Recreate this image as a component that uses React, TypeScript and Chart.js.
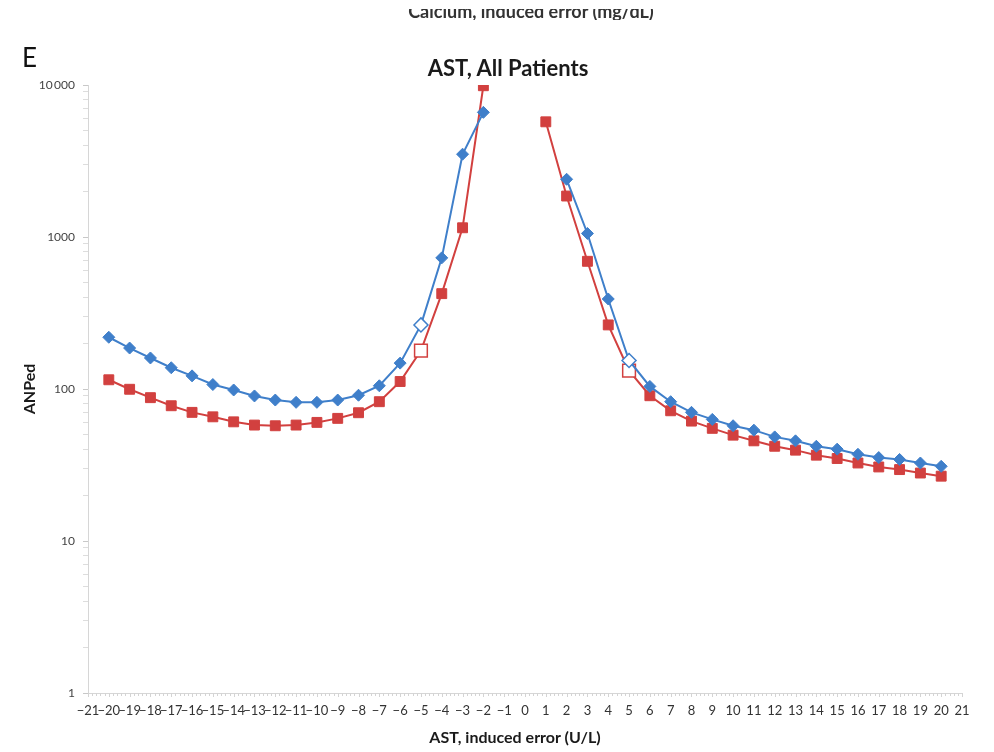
import React, { useEffect, useRef } from "react";
import { Chart, registerables } from "chart.js";

Chart.register(...registerables);

// ---- data ----
const xValues: number[] = [
  -20, -19, -18, -17, -16, -15, -14, -13, -12, -11, -10, -9, -8, -7, -6, -5, -4, -3, -2, -1,
  0, 1, 2, 3, 4, 5, 6, 7, 8, 9, 10, 11, 12, 13, 14, 15, 16, 17, 18, 19, 20,
];
const blueValues: (number | null)[] = [
  219, 186, 160, 138, 122, 107, 98.5, 90, 84.6, 81.7, 81.7, 84.6, 91, 105, 148, 264, 729, 3505, 6607,
  null, null, null,
  2397, 1055, 391, 154, 104, 82.5, 70.2, 63.1, 57.3, 53.6, 48.4, 45.6, 42.0, 40.2, 37.2, 35.4, 34.4, 32.6, 31.0,
];
const redValues: (number | null)[] = [
  115, 99.6, 87.7, 77.6, 70.2, 65.6, 60.8, 57.9, 57.3, 57.9, 60.3, 64.1, 69.8, 82.5, 112, 179, 424, 1150, 9890,
  null, null,
  5725, 1860, 692, 264, 132, 90.3, 71.9, 61.5, 55.1, 49.7, 45.6, 42.0, 39.6, 36.7, 34.9, 32.6, 30.7, 29.5, 28.0, 26.7,
];
const openMarkerX: number[] = [-5, 5];
const yMajorTicks: number[] = [1, 10, 100, 1000, 10000];
const xTickMin = -21;
const xTickMax = 21;

const chartTitle = "AST, All Patients";
const xAxisTitle = "AST, induced error (U/L)";
const yAxisTitle = "ANPed";
const panelLetter = "E";
const cutTitle = "Calcium, induced error (mg/dL)";

const BLUE = "#3f7fca";
const RED = "#d2403f";
const FONT = "Lato, 'Open Sans', sans-serif";

function fmtY(v: number): string {
  if (v >= 10000) {
    const s = String(v);
    return s.slice(0, s.length - 3) + "\u2009" + s.slice(s.length - 3);
  }
  return String(v);
}

function fmtX(v: number): string {
  return v < 0 ? "\u2212" + Math.abs(v) : String(v);
}

const minorTicksPlugin = {
  id: "minorTicks",
  afterDraw(chart: any) {
    const { ctx, chartArea } = chart;
    const xs = chart.scales.x;
    ctx.save();
    ctx.strokeStyle = "#d4d4d4";
    ctx.lineWidth = 1;
    ctx.beginPath();
    for (let i = 0; i <= (xTickMax - xTickMin) * 5; i++) {
      const v = xTickMin + i / 5;
      const px = Math.round(xs.getPixelForValue(v)) + 0.5;
      ctx.moveTo(px, chartArea.bottom);
      ctx.lineTo(px, chartArea.bottom + (i % 5 === 0 ? 4 : 3));
    }
    ctx.stroke();
    ctx.restore();
  },
};

export default function App() {
  const canvasRef = useRef<HTMLCanvasElement | null>(null);

  useEffect(() => {
    const canvas = canvasRef.current;
    if (!canvas) return;

    const isOpen = (x: number) => openMarkerX.includes(x);

    const blueData = xValues.map((x, i) => ({ x, y: blueValues[i] }));
    const redData = xValues.map((x, i) => ({ x, y: redValues[i] }));

    const yTicks: number[] = [];
    for (let p = 0; p < 4; p++) {
      for (let m = 1; m < 10; m++) yTicks.push(m * Math.pow(10, p));
    }
    yTicks.push(10000);

    const chart = new Chart(canvas, {
      type: "line",
      data: {
        datasets: [
          {
            label: "Blue",
            data: blueData,
            borderColor: BLUE,
            borderWidth: 2,
            pointStyle: "rectRot",
            pointRadius: xValues.map((x) => (isOpen(x) ? 7 : 6)),
            pointBackgroundColor: xValues.map((x) => (isOpen(x) ? "#ffffff" : BLUE)),
            pointBorderColor: BLUE,
            pointBorderWidth: xValues.map((x) => (isOpen(x) ? 1.5 : 1)),
            spanGaps: false,
            tension: 0,
          },
          {
            label: "Red",
            data: redData,
            borderColor: RED,
            borderWidth: 2,
            pointStyle: "rect",
            pointRadius: xValues.map((x) => (isOpen(x) ? 9 : 7)),
            pointBackgroundColor: xValues.map((x) => (isOpen(x) ? "#ffffff" : RED)),
            pointBorderColor: RED,
            pointBorderWidth: xValues.map((x) => (isOpen(x) ? 1.5 : 1)),
            spanGaps: false,
            tension: 0,
          },
        ],
      } as any,
      options: {
        responsive: false,
        animation: false,
        maintainAspectRatio: false,
        layout: { padding: { left: 0, right: 32, top: 85, bottom: 0 } },
        plugins: {
          legend: { display: false },
          tooltip: { enabled: false },
          title: { display: false },
        },
        scales: {
          x: {
            type: "linear",
            min: xTickMin,
            max: xTickMax,
            afterFit: (s: any) => {
              s.height = 59;
            },
            afterBuildTicks: (s: any) => {
              const t = [];
              for (let v = xTickMin; v <= xTickMax; v++) t.push({ value: v });
              s.ticks = t;
            },
            ticks: {
              autoSkip: false,
              maxRotation: 0,
              minRotation: 0,
              padding: 10,
              color: "#333333",
              font: { family: FONT, size: 13 },
              callback: (v: any) => fmtX(Number(v)),
            },
            grid: { display: true, drawOnChartArea: false, drawTicks: false, tickLength: 0 },
            border: { display: true, color: "#d6d6d6", width: 1 },
          },
          y: {
            type: "logarithmic",
            min: 1,
            max: 10000,
            afterFit: (s: any) => {
              s.width = 88;
            },
            afterBuildTicks: (s: any) => {
              s.ticks = yTicks.map((v) => ({ value: v, major: yMajorTicks.includes(v) }));
            },
            ticks: {
              autoSkip: false,
              padding: 8,
              color: "#444444",
              font: { family: FONT, size: 12 },
              callback: (v: any) => (yMajorTicks.includes(Number(v)) ? fmtY(Number(v)) : ""),
            },
            grid: {
              display: true,
              drawOnChartArea: false,
              drawTicks: true,
              tickLength: 5,
              tickColor: (c: any) =>
                c.tick && yMajorTicks.includes(c.tick.value) ? "#c8c8c8" : "#dddddd",
            },
            border: { display: true, color: "#d6d6d6", width: 1 },
          },
        },
      },
      plugins: [minorTicksPlugin],
    });

    return () => {
      chart.destroy();
    };
  }, []);

  const textBase: React.CSSProperties = {
    position: "absolute",
    fontFamily: FONT,
    color: "#1a1a1a",
    whiteSpace: "nowrap",
    lineHeight: 1,
  };

  return (
    <div
      style={{
        position: "fixed",
        left: 0,
        top: 0,
        width: 994,
        height: 752,
        background: "#ffffff",
        overflow: "hidden",
      }}
    >
      <canvas ref={canvasRef} width={994} height={752} style={{ width: 994, height: 752, display: "block" }} />
      <div style={{ position: "absolute", left: 0, top: 9, width: 994, height: 11, overflow: "hidden" }}>
        <div
          style={{
            ...textBase,
            left: 531,
            top: -7,
            transform: "translateX(-50%)",
            fontSize: 18,
            fontWeight: 700,
            color: "#333333",
          }}
        >
          {cutTitle}
        </div>
      </div>
      <div style={{ ...textBase, left: 22, top: 44, fontSize: 26, fontWeight: 400, color: "#111" }}>
        {panelLetter}
      </div>
      <div
        style={{
          ...textBase,
          left: 508,
          top: 57,
          transform: "translateX(-50%)",
          fontSize: 22,
          fontWeight: 700,
        }}
      >
        {chartTitle}
      </div>
      <div
        style={{
          ...textBase,
          left: 29,
          top: 389,
          transform: "translate(-50%, -50%) rotate(-90deg)",
          fontSize: 16,
          fontWeight: 700,
        }}
      >
        {yAxisTitle}
      </div>
      <div
        style={{
          ...textBase,
          left: 515,
          top: 729,
          transform: "translateX(-50%)",
          fontSize: 16,
          fontWeight: 700,
        }}
      >
        {xAxisTitle}
      </div>
    </div>
  );
}
